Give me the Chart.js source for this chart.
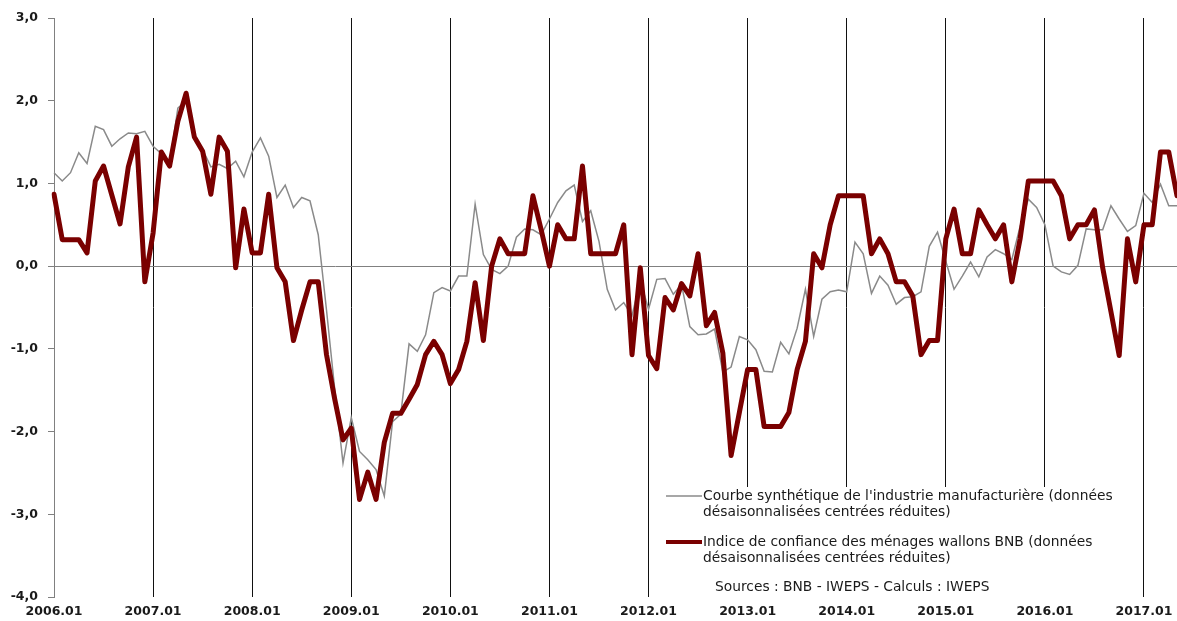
<!DOCTYPE html>
<html>
<head>
<meta charset="utf-8">
<script src="https://cdn.jsdelivr.net/npm/chart.js@4.4.1/dist/chart.umd.min.js"></script>
<style>
html, body { margin: 0; padding: 0; background: #fff; overflow: hidden; }
canvas { display: block; }
</style>
</head>
<body>
<canvas id="chart" width="1177" height="621"></canvas>
<script>
// monthly labels 2006.01 .. 2017.05
const months = [];
for (let i = 0; i < 137; i++) {
    const y = 2006 + Math.floor(i / 12);
    const m = (i % 12) + 1;
    months.push(y + "." + (m < 10 ? "0" + m : m));
}

// Courbe synthétique de l'industrie manufacturière
const industrie = [
    1.13, 1.03, 1.13, 1.37, 1.24, 1.69, 1.65, 1.45, 1.54, 1.61, 1.60, 1.63,
    1.45, 1.36, 1.24, 1.91, 2.00, 1.58, 1.41, 1.20, 1.23, 1.18, 1.27, 1.08,
    1.38, 1.55, 1.33, 0.83, 0.98, 0.71, 0.83, 0.79, 0.38, -0.53, -1.49, -2.38,
    -1.83, -2.24, -2.34, -2.46, -2.78, -1.88, -1.79, -0.94, -1.03, -0.83, -0.32, -0.26,
    -0.30, -0.12, -0.12, 0.75, 0.14, -0.04, -0.09, 0.00, 0.35, 0.45, 0.44, 0.38,
    0.57, 0.77, 0.91, 0.98, 0.54, 0.67, 0.30, -0.28, -0.53, -0.44, -0.60, -0.17,
    -0.52, -0.16, -0.15, -0.34, -0.22, -0.73, -0.83, -0.82, -0.76, -1.28, -1.22, -0.85,
    -0.89, -1.01, -1.27, -1.28, -0.92, -1.06, -0.75, -0.28, -0.85, -0.40, -0.31, -0.29,
    -0.31, 0.29, 0.15, -0.33, -0.12, -0.23, -0.46, -0.38, -0.37, -0.31, 0.24, 0.41,
    0.06, -0.28, -0.12, 0.05, -0.13, 0.11, 0.20, 0.15, 0.08, 0.48, 0.81, 0.71,
    0.50, 0.00, -0.07, -0.10, 0.01, 0.45, 0.44, 0.44, 0.73, 0.57, 0.42, 0.49,
    0.88, 0.77, 0.99, 0.73, 0.73
];

// Indice de confiance des ménages wallons BNB
const menages = [
    0.87, 0.32, 0.32, 0.32, 0.16, 1.03, 1.21, 0.86, 0.51, 1.20, 1.56, -0.19,
    0.40, 1.38, 1.21, 1.75, 2.09, 1.56, 1.39, 0.87, 1.56, 1.39, -0.02, 0.69,
    0.16, 0.16, 0.87, -0.02, -0.19, -0.90, -0.53, -0.19, -0.19, -1.07, -1.61, -2.10,
    -1.96, -2.82, -2.49, -2.82, -2.13, -1.78, -1.78, -1.61, -1.43, -1.07, -0.91, -1.07,
    -1.42, -1.25, -0.91, -0.20, -0.90, 0.00, 0.33, 0.15, 0.15, 0.15, 0.85, 0.44,
    0.00, 0.50, 0.33, 0.33, 1.21, 0.15, 0.15, 0.15, 0.15, 0.50, -1.07, -0.02,
    -1.08, -1.24, -0.38, -0.53, -0.21, -0.36, 0.15, -0.72, -0.56, -1.05, -2.29, -1.77,
    -1.25, -1.25, -1.94, -1.94, -1.94, -1.77, -1.25, -0.91, 0.15, -0.02, 0.50, 0.85,
    0.85, 0.85, 0.85, 0.15, 0.33, 0.15, -0.19, -0.19, -0.36, -1.07, -0.90, -0.90,
    0.33, 0.69, 0.15, 0.15, 0.68, 0.50, 0.33, 0.50, -0.19, 0.33, 1.03, 1.03,
    1.03, 1.03, 0.85, 0.33, 0.50, 0.50, 0.68, -0.02, -0.55, -1.08, 0.33, -0.19,
    0.50, 0.50, 1.38, 1.38, 0.85
];

const legendIndustrie = ["Courbe synthétique de l'industrie manufacturière (données", "désaisonnalisées centrées réduites)"];
const legendMenages = ["Indice de confiance des ménages wallons BNB (données", "désaisonnalisées centrées réduites)"];
const sourceText = "Sources : BNB - IWEPS - Calculs : IWEPS";

const textColor = "#1a1a1a";
const fontName = "'DejaVu Sans', sans-serif";

// legend drawn inside the plot, on a white box that hides the year lines
const legendBox = {
    id: "legendBox",
    beforeDatasetsDraw(chart) {
        const ctx = chart.ctx;
        const bottom = chart.chartArea.bottom;
        ctx.save();
        ctx.fillStyle = "#fff";
        ctx.fillRect(652, 487, 486, bottom - 487);
        ctx.font = "13.8px " + fontName;
        ctx.textBaseline = "middle";
        ctx.textAlign = "left";
        let y = 496;
        chart.data.datasets.forEach(ds => {
            ctx.strokeStyle = ds.borderColor;
            ctx.lineWidth = ds.legendWidth;
            ctx.beginPath();
            ctx.moveTo(666, y);
            ctx.lineTo(702, y);
            ctx.stroke();
            ctx.fillStyle = textColor;
            ds.legendLines.forEach((line, k) => ctx.fillText(line, 703, y + k * 16.5));
            y += 46;
        });
        ctx.fillText(sourceText, 715, 587);
        ctx.restore();
    }
};

new Chart(document.getElementById("chart"), {
    type: "line",
    data: {
        labels: months,
        datasets: [
            {
                label: legendIndustrie.join(" "),
                legendLines: legendIndustrie,
                legendWidth: 1.5,
                data: industrie,
                borderColor: "#8a8a8a",
                borderWidth: 1.5,
                pointRadius: 0,
                tension: 0,
                order: 1
            },
            {
                label: legendMenages.join(" "),
                legendLines: legendMenages,
                legendWidth: 4,
                data: menages,
                borderColor: "#7a0000",
                borderWidth: 5,
                borderJoinStyle: "round",
                borderCapStyle: "round",
                pointRadius: 0,
                tension: 0,
                order: 0
            }
        ]
    },
    options: {
        responsive: false,
        animation: false,
        layout: { padding: { top: 18, right: 0, left: 0, bottom: 0 } },
        plugins: {
            legend: { display: false },
            tooltip: { enabled: false }
        },
        scales: {
            x: {
                offset: false,
                border: { display: false },
                grid: {
                    drawTicks: false,
                    color: c => (c.index > 0 && c.index % 12 === 0) ? "#111" : "rgba(0,0,0,0)"
                },
                ticks: {
                    autoSkip: false,
                    maxRotation: 0,
                    minRotation: 0,
                    padding: 7,
                    color: textColor,
                    font: { family: fontName, size: 12.5, weight: "bold" },
                    callback: (v, i) => i % 12 === 0 ? months[i] : ""
                },
                afterFit: s => {
                    s.height = 24;
                    s.paddingRight = 0;
                }
            },
            y: {
                min: -4,
                max: 3,
                border: { display: true, color: "#808080", width: 1 },
                grid: {
                    drawTicks: true,
                    tickLength: 6,
                    tickColor: "#808080",
                    color: c => (c.tick && c.tick.value === 0) ? "#808080" : "rgba(0,0,0,0)"
                },
                ticks: {
                    stepSize: 1,
                    padding: 10,
                    color: textColor,
                    font: { family: fontName, size: 12.5, weight: "bold" },
                    callback: v => v.toFixed(1).replace(".", ",")
                },
                afterFit: s => { s.width = 54; }
            }
        }
    },
    plugins: [legendBox]
});
</script>
</body>
</html>
